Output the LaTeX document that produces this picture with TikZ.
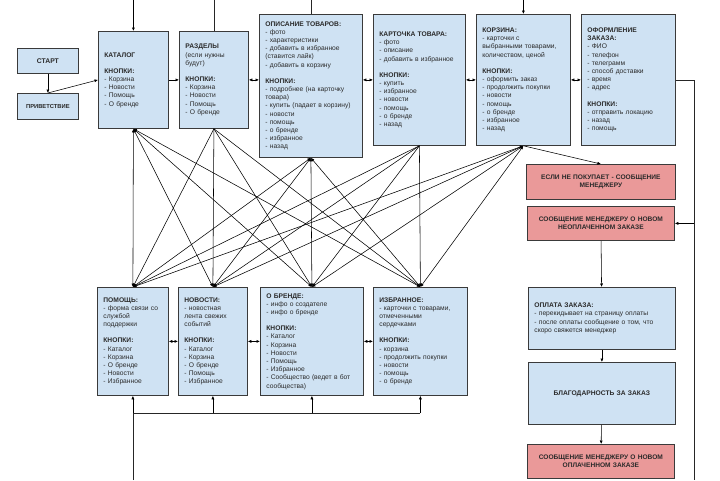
\documentclass[tikz,border=0pt]{standalone}
\usepackage{fontspec}
\setmainfont{Liberation Sans}
\usepackage{xcolor}
\usetikzlibrary{arrows.meta}
\usetikzlibrary{positioning}
\definecolor{cardblue}{HTML}{CFE2F3}
\definecolor{cardred}{HTML}{EA9999}
\definecolor{cardline}{HTML}{3A3A3A}
\definecolor{cardtext}{HTML}{2A2A2A}
\newcommand{\hd}[1]{\textbf{#1}}% heading inside a card

\begin{document}
\begin{tikzpicture}[x=1pt, y=-1pt]
		% ------- style -------
		\tikzset{%
			card/.style 2 args={%
				draw=cardline, line width=0.8pt, fill=cardblue, text=cardtext,
				anchor=north west, inner xsep=6pt, inner ysep=0pt, align=left,
				minimum width=#1pt, minimum height=#2pt, text width={#1pt-12pt},
				font=\fontsize{6.7}{8.2}\selectfont,
			},
			alert/.style 2 args={%
				card={#1}{#2}, fill=cardred, align=center,
				font=\fontsize{6.6}{8}\selectfont\bfseries,
			},
			link/.style={draw=black, line width=0.55pt, -{Latex[length=3.5pt,width=3pt]}},
			linkboth/.style={link, {Latex[length=3.5pt,width=3pt]}-{Latex[length=3.5pt,width=3pt]}},
			wire/.style={draw=black!85, line width=0.55pt},
		}
		\useasboundingbox (0,0) rectangle (720,480);
		\coordinate (top) at (0,0);
		\coordinate (bottom) at (0,480);
		\coordinate (bus) at (0,413);
		\coordinate (rail) at (694,0);
		
		% ------- start -------
		\node[card={61}{25}, align=center, font=\fontsize{6.8}{8}\selectfont\bfseries] (start) at (17,48) {СТАРТ};
		\node[card={61}{26}, align=center, font=\fontsize{5.8}{7}\selectfont\bfseries] (hello) at (17,93) {ПРИВЕТСТВИЕ};
		
		% ------- top row -------
		\node[card={70}{97}] (catalog) at (98,31) {\hd{КАТАЛОГ}\\[8pt]
			\hd{КНОПКИ:}\\ - Корзина\\ - Новости\\ - Помощь\\ - О бренде};
		\node[card={69}{97}] (sections) at (179,31) {\hd{РАЗДЕЛЫ}\\ (если нужны\\ будут)\\[8pt]
			\hd{КНОПКИ:}\\ - Корзина\\ - Новости\\ - Помощь\\ - О бренде};
		\node[card={103}{143}] (about) at (259,14) {\hd{ОПИСАНИЕ ТОВАРОВ:}\\ - фото\\ - характеристики\\
			- добавить в избранное\\ (ставится лайк)\\ - добавить в корзину\\[8pt]
			\hd{КНОПКИ:}\\ - подробнее (на карточку\\ товара)\\ - купить (падает в корзину)\\
			- новости\\ - помощь\\ - о бренде\\ - избранное\\ - назад};
		\node[card={92}{131}] (product) at (373,14) {\hd{КАРТОЧКА ТОВАРА:}\\ - фото\\ - описание\\
			- добавить в избранное\\[8pt]
			\hd{КНОПКИ:}\\ - купить\\ - избранное\\ - новости\\ - помощь\\ - о бренде\\ - назад};
		\node[card={94}{131}] (basket) at (476,14) {\hd{КОРЗИНА:}\\ - карточки с\\ выбранными товарами,\\
			количеством, ценой\\[8pt]
			\hd{КНОПКИ:}\\ - оформить заказ\\ - продолжить покупки\\ - новости\\ - помощь\\
			- о бренде\\ - избранное\\ - назад};
		\node[card={94}{131}] (order) at (581,14) {\hd{ОФОРМЛЕНИЕ}\\ \hd{ЗАКАЗА:}\\ - ФИО\\ - телефон\\
			- телеграмм\\ - способ доставки\\ - время\\ - адрес\\[8pt]
			\hd{КНОПКИ:}\\ - отправить локацию\\ - назад\\ - помощь};
		
		% ------- bottom row -------
		\node[card={71}{108}] (help) at (97,287) {\hd{ПОМОЩЬ:}\\ - форма связи со\\ службой\\ поддержки\\[8pt]
			\hd{КНОПКИ:}\\ - Каталог\\ - Корзина\\ - О бренде\\ - Новости\\ - Избранное};
		\node[card={69}{108}] (news) at (178,287) {\hd{НОВОСТИ:}\\ - новостная\\ лента свежих\\ событий\\[8pt]
			\hd{КНОПКИ:}\\ - Каталог\\ - Корзина\\ - О бренде\\ - Помощь\\ - Избранное};
		\node[card={103}{108}] (brand) at (260,287) {\hd{О БРЕНДЕ:}\\ - инфо о создателе\\ - инфо о бренде\\[8pt]
			\hd{КНОПКИ:}\\ - Каталог\\ - Корзина\\ - Новости\\ - Помощь\\ - Избранное\\
			- Сообщество (ведет в бот\\ сообщества)};
		\node[card={94}{108}] (fav) at (373,287) {\hd{ИЗБРАННОЕ:}\\ - карточки с товарами,\\ отмеченными\\ сердечками\\[8pt]
			\hd{КНОПКИ:}\\ - корзина\\ - продолжить покупки\\ - новости\\ - помощь\\ - о бренде};
		
		% ------- manager column -------
		\node[alert={149}{35}] (nobuy) at (526,164) {ЕСЛИ НЕ ПОКУПАЕТ - СООБЩЕНИЕ\\ МЕНЕДЖЕРУ};
		\node[alert={147}{34}] (unpaid) at (527,206) {СООБЩЕНИЕ МЕНЕДЖЕРУ О НОВОМ\\ НЕОПЛАЧЕННОМ ЗАКАЗЕ};
		\node[card={147}{62}] (pay) at (528,287) {\hd{ОПЛАТА ЗАКАЗА:}\\ - перекидывает на страницу оплаты\\
			- после оплаты сообщение о том, что\\ скоро свяжется менеджер};
		\node[card={147}{62}, align=center, font=\fontsize{6.7}{8}\selectfont\bfseries] (thanks) at (528,362) {БЛАГОДАРНОСТЬ ЗА ЗАКАЗ};
		\node[alert={147}{34}] (paid) at (527,444) {СООБЩЕНИЕ МЕНЕДЖЕРУ О НОВОМ\\ ОПЛАЧЕННОМ ЗАКАЗЕ};
		
		% ------- connectors -------
		\draw[link] (catalog.north |- top) -- (catalog.north);
		\draw[wire] (sections.north |- top) -- (sections.north);
		\draw[wire] (about.north |- top) -- (about.north);
		\draw[link] (basket.north |- top) -- (basket.north);
		
		\draw[link] (start) -- (hello);
		\draw[link] (hello.north) -- (catalog.west);
		\draw[link] (catalog) -- (sections);
		\draw[linkboth] (sections.east) -- (sections.east -| about.west);
		\draw[linkboth] (product.west -| about.east) -- (product.west);
		\draw[linkboth] (product) -- (basket);
		\draw[linkboth] (basket) -- (order);
		
		\foreach \src/\tip in {catalog/linkboth, sections/link, about/linkboth, product/link, basket/linkboth} {%
			\foreach \dst in {help, news, brand, fav} {%
				\draw[\tip] (\src.south) -- (\dst.north);
			}
		}
		
		\draw[linkboth] (help) -- (news);
		\draw[linkboth] (news) -- (brand);
		\draw[linkboth] (brand) -- (fav);
		
		\draw[wire] (help.south |- bottom) -- (help.south |- bus) -- (fav.south |- bus);
		\foreach \dst in {help, news, brand, fav} {%
			\draw[link] (\dst.south |- bus) -- (\dst.south);
		}
		
		\draw[link] (basket.south) -- (nobuy.north);
		\draw[wire] (order.east) -- (order.east -| rail) -- (rail |- bottom);
		\draw[link] (unpaid.east -| rail) -- (unpaid.east);
		\draw[link] (unpaid) -- (pay);
		\draw[link] (pay) -- (thanks);
		\draw[link] (thanks) -- (paid);
\end{tikzpicture}
\end{document}
